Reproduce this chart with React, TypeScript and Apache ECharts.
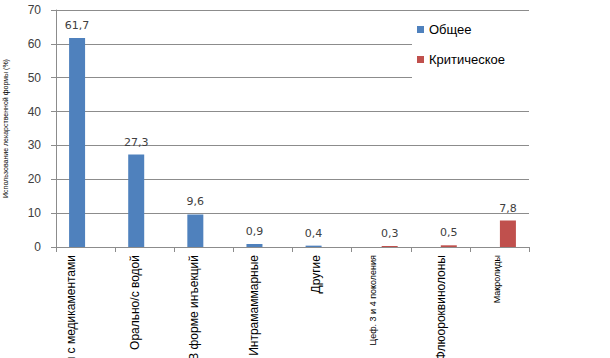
import React, { useEffect, useRef } from "react";
import * as echarts from "echarts";

const categories = [
  "Орально/с кормом с медикаментами",
  "Орально/с водой",
  "В форме инъекций",
  "Интрамаммарные",
  "Другие",
  "Цеф. 3 и 4 поколения",
  "Флюороквинолоны",
  "Макролиды",
];
const generalValues: (number | null)[] = [61.7, 27.3, 9.6, 0.9, 0.4, null, null, null];
const criticalValues: (number | null)[] = [null, null, null, null, null, 0.3, 0.5, 7.8];
const seriesNames = ["Общее", "Критическое"];
const yAxisName = "Использование лекарственной формы (%)";

// label styling (not data): font size and horizontal shift (px, negative = left)
const labelFontSizes = [12, 12, 12, 12, 12, 9, 12, 9];
const labelShifts = [-15, -10, -10, -9, -6, -8, 1, -2];

export default function App() {
  const ref = useRef<HTMLDivElement>(null);
  useEffect(() => {
    if (!ref.current) return;
    const chart = echarts.init(ref.current, undefined, { renderer: "svg" });
    const labelFmt = (p: any) => String(p.value).replace(".", ",");
    const dataLabel = {
      show: true,
      position: "top",
      distance: 7,
      fontFamily: "DejaVu Sans",
      fontSize: 11,
      color: "#404040",
      formatter: labelFmt,
    };
    const rich: Record<string, any> = {};
    categories.forEach((_, i) => {
      const s = labelShifts[i];
      const padding = s < 0 ? [0, 0, -2 * s, 0] : [2 * s, 0, 0, 0];
      rich["r" + i] = {
        fontFamily: "Liberation Sans",
        fontSize: labelFontSizes[i],
        color: "#000",
        padding,
      };
    });
    chart.setOption({
      animation: false,
      backgroundColor: "#fff",
      grid: { left: 56, right: 81, top: 10, bottom: 111, containLabel: false, outerBoundsMode: "none" },
      legend: {
        orient: "vertical",
        left: 412,
        top: 11,
        padding: [12, 30, 12, 5],
        backgroundColor: "#fff",
        itemWidth: 7,
        itemHeight: 7,
        itemGap: 17,
        icon: "rect",
        textStyle: { fontFamily: "Liberation Sans", fontSize: 13, color: "#000", padding: [0, 0, 4, 0] },
        data: seriesNames,
      },
      xAxis: {
        type: "category",
        data: categories,
        axisLine: { lineStyle: { color: "#8c8c8c" } },
        axisTick: { show: true, alignWithLabel: false, length: 5, lineStyle: { color: "#8c8c8c" } },
        axisLabel: {
          rotate: 90,
          interval: 0,
          margin: 8,
          fontFamily: "Liberation Sans",
          fontSize: 12,
          color: "#000",
          formatter: (v: string, i: number) => `{r${i}|${v}}`,
          rich,
        },
      },
      yAxis: {
        type: "value",
        min: 0,
        max: 70,
        interval: 10,
        name: yAxisName,
        nameLocation: "middle",
        nameRotate: 90,
        nameGap: 47,
        nameTextStyle: {
          fontFamily: "Liberation Sans",
          fontSize: 7,
          color: "#000",
        },
        axisLine: { show: true, lineStyle: { color: "#8c8c8c" } },
        axisTick: { show: true, length: 5, lineStyle: { color: "#8c8c8c" } },
        axisLabel: {
          margin: 15,
          fontFamily: "Liberation Sans",
          fontSize: 12,
          color: "#404040",
        },
        splitLine: { lineStyle: { color: "#8c8c8c" } },
      },
      series: [
        {
          name: seriesNames[0],
          type: "bar",
          data: generalValues,
          barWidth: 16,
          barGap: "6%",
          itemStyle: { color: "#4F81BD" },
          label: dataLabel,
        },
        {
          name: seriesNames[1],
          type: "bar",
          data: criticalValues,
          barWidth: 16,
          barGap: "6%",
          itemStyle: { color: "#C0504D" },
          label: dataLabel,
        },
      ],
    });
    return () => chart.dispose();
  }, []);
  return <div ref={ref} style={{ width: 610, height: 358, position: "absolute", left: 0, top: 0 }} />;
}
